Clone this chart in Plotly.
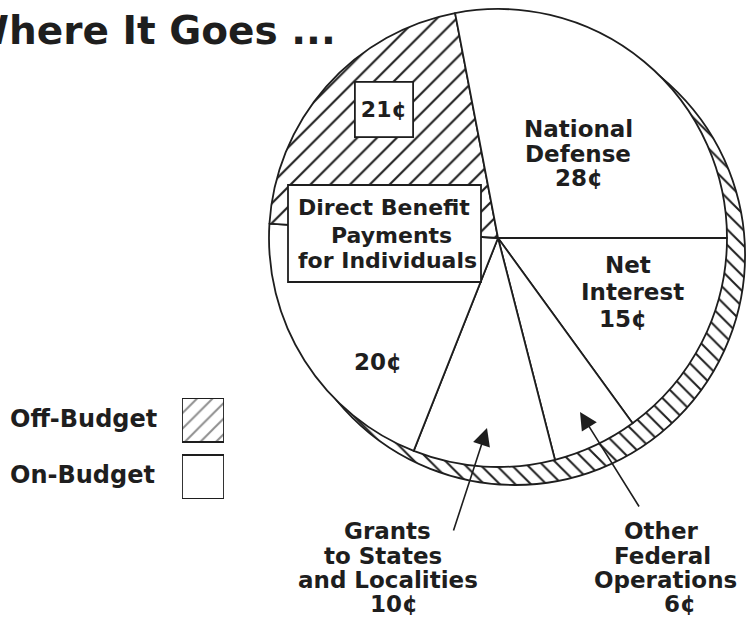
import plotly.graph_objects as go

W, H = 752, 621
INK = "#1e1e1e"
FONT = "DejaVu Sans"

# Where each budget dollar goes, in cents, listed clockwise from 3 o'clock
categories = [
    "Net Interest",
    "Other Federal Operations",
    "Grants to States and Localities",
    "Direct Benefit Payments (On-Budget)",
    "Direct Benefit Payments (Off-Budget)",
    "National Defense",
]
cents = [15, 6, 10, 20, 21, 28]
budget_status = ["On-Budget", "On-Budget", "On-Budget", "On-Budget", "Off-Budget", "On-Budget"]

# Off-budget band drawn behind the main pie
ring_labels = ["Off-Budget"]
ring_values = [1]

legend_keys = ["Off-Budget", "On-Budget"]
legend_marks = [1, 1]

hatch = {"Off-Budget": "/", "On-Budget": ""}
value = dict(zip(categories, cents))


def px(x):
    return x / W


def py(y):
    return 1 - y / H


def dom(cx, cy, r):
    return dict(x=[px(cx - r), px(cx + r)], y=[py(cy + r), py(cy - r)])


fig = go.Figure()

# hatched off-budget band (only its crescent shows past the main pie)
fig.add_trace(go.Pie(
    labels=ring_labels, values=ring_values, sort=False,
    domain=dom(515, 255, 230),
    textinfo="none", hoverinfo="skip", showlegend=False,
    marker=dict(colors=["white"], line=dict(color=INK, width=1.8),
                pattern=dict(shape="\\", size=11, solidity=0.18,
                             fgcolor=INK, bgcolor="white")),
))

# main pie
fig.add_trace(go.Pie(
    labels=categories, values=cents, sort=False,
    direction="clockwise", rotation=90,
    domain=dom(498, 238, 229),
    textinfo="none", hoverinfo="skip", showlegend=False,
    marker=dict(colors=["white"] * len(cents), line=dict(color=INK, width=1.8),
                pattern=dict(shape=[hatch[s] for s in budget_status], size=14,
                             solidity=0.15, fgcolor=INK, bgcolor="white")),
))

# legend swatches
fig.add_trace(go.Bar(
    y=legend_keys, x=legend_marks, orientation="h", width=0.772,
    hoverinfo="skip", showlegend=False,
    marker=dict(color="white", line=dict(color=INK, width=1.8),
                pattern=dict(shape=[hatch[k] for k in legend_keys], size=11,
                             solidity=0.18, fgcolor=INK, bgcolor="white")),
))


def text_line(txt, cx, base, size=23, anchor="center"):
    return dict(text=txt, x=px(cx), y=py(base - 0.35 * size),
                xref="paper", yref="paper", xanchor=anchor, yanchor="middle",
                showarrow=False,
                font=dict(family=FONT, size=size, color=INK, weight="bold"))


def arrow(tip_x, tip_y, tail_x, tail_y):
    return dict(text="", x=px(tip_x), y=py(tip_y), xref="paper", yref="paper",
                ax=tail_x - tip_x, ay=tail_y - tip_y, showarrow=True,
                arrowhead=2, arrowsize=2.2, arrowwidth=1.6, arrowcolor=INK)


def c(name):
    return f"{value[name]}¢"


lines = [
    ("National", 578, 137), ("Defense", 578, 162), (c("National Defense"), 579, 186),
    ("Net", 627.5, 273), ("Interest", 632, 300), (c("Net Interest"), 623, 327),
    (c("Direct Benefit Payments (On-Budget)"), 378, 370.5),
    ("Grants", 387.5, 539), ("to States", 383, 564), ("and Localities", 387.5, 588),
    (c("Grants to States and Localities"), 394, 612),
    ("Other", 661, 539), ("Federal", 662.5, 564), ("Operations", 665.5, 588),
    (c("Other Federal Operations"), 679.5, 612),
]
annotations = [text_line(t, x, b) for t, x, b in lines]

# boxed labels for the direct benefit slices
annotations.append(dict(
    text=c("Direct Benefit Payments (Off-Budget)"), x=px(384), y=py(109.5),
    xref="paper", yref="paper", xanchor="center", yanchor="middle", showarrow=False,
    width=56, height=53, borderpad=0, borderwidth=1.8, bordercolor=INK, bgcolor="white",
    font=dict(family=FONT, size=22, color=INK, weight="bold")))
for t, x, b in [("Direct Benefit", 383.5, 215), ("Payments", 391, 243),
                ("for Individuals", 387, 268)]:
    annotations.append(text_line(t, x, b, size=22))

annotations += [arrow(487, 428, 453, 532), arrow(580, 412, 640, 508)]

# legend text and title
annotations += [text_line("Off-Budget", 8, 427, size=24, anchor="left"),
                text_line("On-Budget", 8, 483, size=24, anchor="left")]
annotations.append(text_line("Where It Goes ...", 338, 44, size=39, anchor="right"))

fig.update_layout(
    width=W, height=H, autosize=False,
    margin=dict(l=0, r=0, t=0, b=0),
    paper_bgcolor="white", plot_bgcolor="white",
    xaxis=dict(domain=[px(182), px(224)], range=[0, 1], visible=False, fixedrange=True),
    yaxis=dict(domain=[py(499), py(398)], type="category",
               categoryorder="array", categoryarray=legend_keys[::-1],
               range=[-0.386, 1.386], visible=False, fixedrange=True),
    shapes=[dict(type="rect", xref="paper", yref="paper",
                 x0=px(288), x1=px(481), y0=py(282), y1=py(185),
                 line=dict(color=INK, width=1.8), fillcolor="white", layer="above")],
    annotations=annotations,
)

fig.write_html("out.html")
